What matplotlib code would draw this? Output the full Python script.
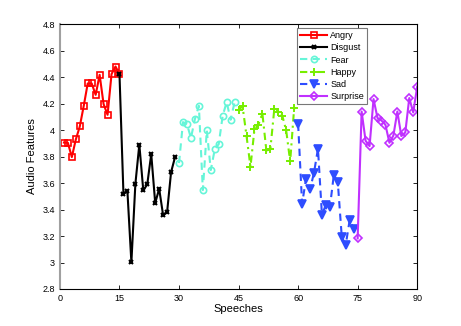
import matplotlib.pyplot as plt
import numpy as np

plt.rcParams["font.family"] = ["Liberation Sans", "DejaVu Sans"]

# x positions (speech index) for each emotion
angry_x = list(range(1, 16))
disgust_x = list(range(15, 30))
fear_x = list(range(30, 45))
happy_x = list(range(45, 60))
sad_x = list(range(60, 75))
surprise_x = list(range(75, 91))

angry_y = [3.906, 3.904, 3.796, 3.929, 4.027, 4.183, 4.352, 4.352, 4.266,
           4.417, 4.196, 4.115, 4.423, 4.480, 4.423]
disgust_y = [4.423, 3.519, 3.537, 3.001, 3.592, 3.891, 3.544, 3.590, 3.819,
             3.449, 3.557, 3.356, 3.381, 3.683, 3.796]
fear_y = [3.751, 4.060, 4.045, 3.940, 4.083, 4.183, 3.547, 3.997, 3.698,
          3.854, 3.894, 4.108, 4.211, 4.078, 4.211]
happy_y = [4.151, 4.181, 3.957, 3.723, 4.005, 4.042, 4.125, 3.846, 3.854,
           4.158, 4.138, 4.110, 3.997, 3.763, 4.166]
sad_y = [4.048, 3.444, 3.632, 3.552, 3.678, 3.859, 3.361, 3.436, 3.416,
         3.663, 3.605, 3.192, 3.134, 3.323, 3.255]
surprise_y = [3.182, 4.140, 3.919, 3.879, 4.234, 4.091, 4.072, 4.040, 3.904,
              3.959, 4.140, 3.955, 3.982, 4.242, 4.133, 4.329]

labels = ["Angry", "Disgust", "Fear", "Happy", "Sad", "Surprise"]

series = [
    (angry_x, angry_y, dict(color="#ff0000", ls="-", marker="s", mfc="none", ms=3.8)),
    (disgust_x, disgust_y, dict(color="#000000", ls="-", marker="x", ms=3.5, mew=1.5)),
    (fear_x, fear_y, dict(color="#66f5d8", ls=(0, (3.5, 2.5)), marker="o", mfc="none", ms=4.5)),
    (happy_x, happy_y, dict(color="#77ee00", ls=(0, (3.5, 2, 1, 2)), marker="+", ms=5.5, mew=1.4)),
    (sad_x, sad_y, dict(color="#2e4dff", ls=(0, (3.5, 2.5)), marker="v", ms=5.5)),
    (surprise_x, surprise_y, dict(color="#c030ff", ls="-", marker="D", mfc="none", ms=4)),
]

fig = plt.figure(figsize=(4.61, 3.26), dpi=100)
ax = fig.add_axes([0.13, 0.1135, 0.775, 0.8125])

for (x, y, style), lab in zip(series, labels):
    ax.plot(x, y, lw=1.5, mew=style.pop("mew", 1.2), label=lab, **style)

ax.set_xlim(0, 90)
ax.set_ylim(2.8, 4.8)
ax.set_xticks(np.arange(0, 91, 15))
yt = np.round(np.arange(2.8, 4.81, 0.2), 1)
ax.set_yticks(yt)
ax.set_yticklabels([f"{v:g}" for v in yt])
ax.tick_params(direction="in", top=True, right=True, labelsize=6.5, length=3, width=0.6)
ax.spines["left"].set_color("#a0a0a0")
ax.spines["left"].set_linewidth(1.5)
for s in ("top", "right", "bottom"):
    ax.spines[s].set_linewidth(0.8)

ax.set_xlabel("Speeches", fontsize=8, labelpad=1)
ax.set_ylabel("Audio Features", fontsize=8, labelpad=4)

leg = ax.legend(loc="upper left", bbox_to_anchor=(0.664, 0.985), fontsize=6.5,
                frameon=True, fancybox=False, edgecolor="#555555",
                handlelength=3.0, handletextpad=0.3, borderpad=0.35,
                labelspacing=0.35, borderaxespad=0)
leg.get_frame().set_linewidth(0.8)

fig.savefig("out.png", dpi=100)
